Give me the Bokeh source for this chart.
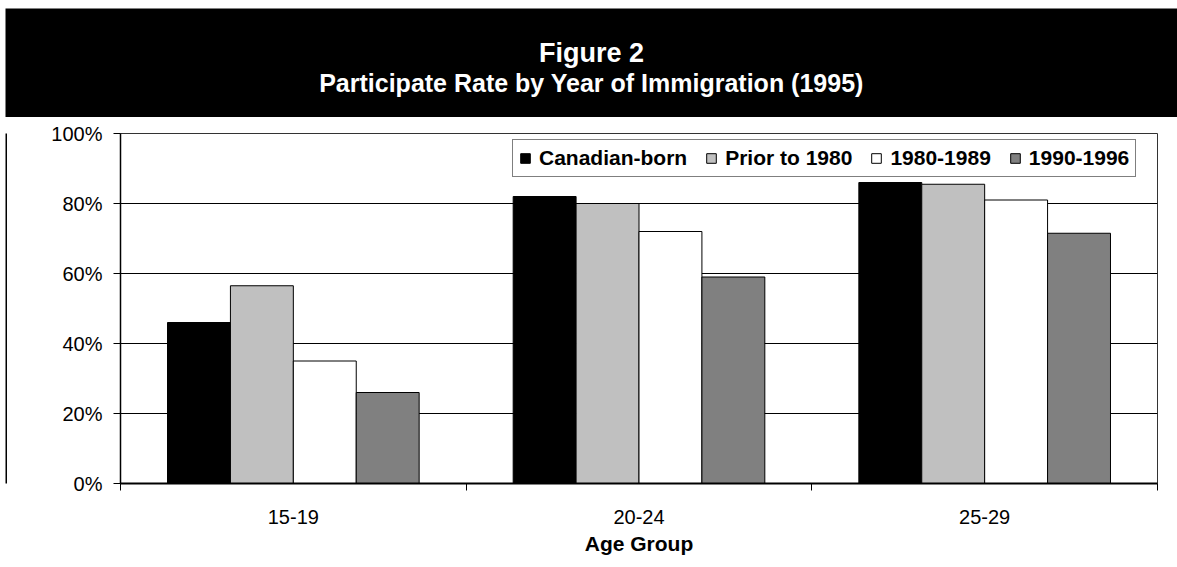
from bokeh.plotting import figure
from bokeh.models import (FixedTicker, NumeralTickFormatter, Legend, LegendItem,
                          Range1d)
from bokeh.layouts import column, row
from bokeh.core.properties import value
from bokeh.embed import file_html
from bokeh.resources import INLINE

# Participation rate (share) by age group and period of immigration
age_groups = ["15-19", "20-24", "25-29"]
series_names = ["Canadian-born", "Prior to 1980", "1980-1989", "1990-1996"]
canadian_born = [0.46, 0.82, 0.86]
prior_to_1980 = [0.565, 0.80, 0.855]
imm_1980_1989 = [0.35, 0.72, 0.81]
imm_1990_1996 = [0.26, 0.59, 0.715]
series_values = [canadian_born, prior_to_1980, imm_1980_1989, imm_1990_1996]
series_colors = ["#000000", "#C0C0C0", "#FFFFFF", "#808080"]
y_ticks = [0.0, 0.2, 0.4, 0.6, 0.8, 1.0]

FONT = "Liberation Sans"

# ---- black heading band ----
header = figure(width=1177, height=117, x_range=(0, 1), y_range=(0, 109),
                min_border_left=5, min_border_top=8, min_border_right=0,
                min_border_bottom=0, background_fill_color="black",
                border_fill_color="white", outline_line_color=None,
                x_axis_location=None, y_axis_location=None,
                toolbar_location=None, output_backend="svg")
header.grid.visible = False
header.text(x=[0.5], y=[65], text=["Figure 2"], text_color="white",
            text_font=value(FONT), text_font_style="bold",
            text_font_size="27px", text_align="center", text_baseline="middle")
header.text(x=[0.5], y=[35], text=["Participate Rate by Year of Immigration (1995)"],
            text_color="white", text_font=value(FONT), text_font_style="bold",
            text_font_size="25px", text_align="center", text_baseline="middle")

# ---- thin left frame rule ----
rule = figure(width=7, height=450, min_border_left=5, min_border_right=0,
              min_border_top=0, min_border_bottom=0, background_fill_color="black",
              border_fill_color="white", outline_line_color=None,
              x_axis_location=None, y_axis_location=None,
              toolbar_location=None, output_backend="svg")
rule.grid.visible = False

# ---- main chart ----
n = len(age_groups)
centers = [i + 0.5 for i in range(n)]
boundaries = [float(i) for i in range(n + 1)]
bar_w = 0.182

p = figure(width=1170, height=450, x_range=Range1d(0, n), y_range=Range1d(0, 1),
           min_border_left=113, min_border_right=20, min_border_top=16,
           min_border_bottom=84, outline_line_color="#333333", outline_line_width=1,
           background_fill_color="white", border_fill_color="white",
           toolbar_location=None, output_backend="svg")

renderers = []
for j, (vals, col) in enumerate(zip(series_values, series_colors)):
    xs = [c + (j - 1.5) * bar_w for c in centers]
    r = p.vbar(x=xs, top=vals, width=bar_w, bottom=0, fill_color=col,
               line_color="black", line_width=1)
    renderers.append(r)

# y axis
p.yaxis.ticker = FixedTicker(ticks=y_ticks, minor_ticks=[])
p.yaxis.formatter = NumeralTickFormatter(format="0%")
p.yaxis.major_label_text_font = FONT
p.yaxis.major_label_text_font_size = "20px"
p.yaxis.major_label_text_color = "black"
p.yaxis.major_tick_in = 0
p.yaxis.major_tick_out = 7
p.yaxis.major_tick_line_color = "black"
p.yaxis.axis_line_color = "black"
p.yaxis.axis_line_width = 1.5
p.yaxis.major_label_standoff = 11

# x axis: labels at group centres, tick marks at group boundaries
p.xaxis.ticker = FixedTicker(ticks=centers, minor_ticks=boundaries)
p.xaxis.major_label_overrides = {c: g for c, g in zip(centers, age_groups)}
p.xaxis.major_tick_in = 0
p.xaxis.major_tick_out = 0
p.xaxis.minor_tick_in = 0
p.xaxis.minor_tick_out = 7
p.xaxis.minor_tick_line_color = "black"
p.xaxis.axis_line_color = "black"
p.xaxis.axis_line_width = 2
p.xaxis.major_label_text_font = FONT
p.xaxis.major_label_text_font_size = "20px"
p.xaxis.major_label_text_color = "black"
p.xaxis.major_label_standoff = 19
p.xaxis.axis_label = "Age Group"
p.xaxis.axis_label_text_font = FONT
p.xaxis.axis_label_text_font_style = "bold"
p.xaxis.axis_label_text_font_size = "21px"
p.xaxis.axis_label_text_color = "black"
p.xaxis.axis_label_standoff = 5

p.xgrid.visible = False
p.ygrid.ticker = FixedTicker(ticks=y_ticks, minor_ticks=[])
p.ygrid.grid_line_color = "black"
p.ygrid.grid_line_width = 1

legend = Legend(items=[LegendItem(label=name, renderers=[r])
                       for name, r in zip(series_names, renderers)],
                orientation="horizontal", location=(392, 306))
legend.label_text_font = FONT
legend.label_text_font_style = "bold"
legend.label_text_font_size = "21px"
legend.label_text_color = "black"
legend.glyph_width = 12
legend.glyph_height = 12
legend.label_standoff = 8
legend.spacing = 18
legend.padding = 6
legend.margin = 0
legend.border_line_color = "black"
legend.border_line_width = 1
legend.background_fill_color = "white"
legend.background_fill_alpha = 1
p.add_layout(legend)

layout = column(header, row(rule, p, spacing=0), spacing=0)

with open("out.html", "w") as f:
    f.write(file_html(layout, INLINE))
